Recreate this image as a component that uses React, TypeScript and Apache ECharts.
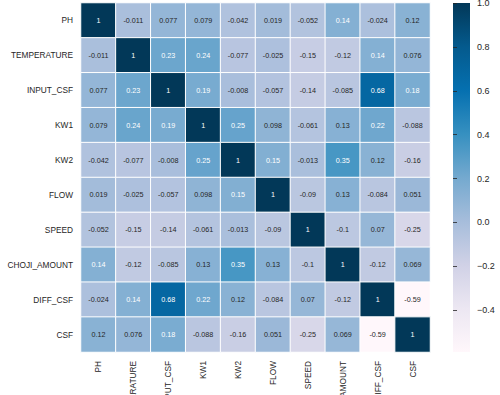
import React, { useEffect, useRef } from "react";
import * as echarts from "echarts";

const labels = ["PH", "TEMPERATURE", "INPUT_CSF", "KW1", "KW2", "FLOW", "SPEED", "CHOJI_AMOUNT", "DIFF_CSF", "CSF"];

const rowPH = [1, -0.011, 0.077, 0.079, -0.042, 0.019, -0.052, 0.14, -0.024, 0.12];
const rowTemp = [-0.011, 1, 0.23, 0.24, -0.077, -0.025, -0.15, -0.12, 0.14, 0.076];
const rowInput = [0.077, 0.23, 1, 0.19, -0.008, -0.057, -0.14, -0.085, 0.68, 0.18];
const rowKW1 = [0.079, 0.24, 0.19, 1, 0.25, 0.098, -0.061, 0.13, 0.22, -0.088];
const rowKW2 = [-0.042, -0.077, -0.008, 0.25, 1, 0.15, -0.013, 0.35, 0.12, -0.16];
const rowFlow = [0.019, -0.025, -0.057, 0.098, 0.15, 1, -0.09, 0.13, -0.084, 0.051];
const rowSpeed = [-0.052, -0.15, -0.14, -0.061, -0.013, -0.09, 1, -0.1, 0.07, -0.25];
const rowChoji = [0.14, -0.12, -0.085, 0.13, 0.35, 0.13, -0.1, 1, -0.12, 0.069];
const rowDiff = [-0.024, 0.14, 0.68, 0.22, 0.12, -0.084, 0.07, -0.12, 1, -0.59];
const rowCSF = [0.12, 0.076, 0.18, -0.088, -0.16, 0.051, -0.25, 0.069, -0.59, 1];

const rows = [rowPH, rowTemp, rowInput, rowKW1, rowKW2, rowFlow, rowSpeed, rowChoji, rowDiff, rowCSF];

const colorbarTicks = [-0.4, -0.2, 0, 0.2, 0.4, 0.6, 0.8, 1.0];
const vMin = -0.59;
const vMax = 1;

const PuBu = ["#fff7fb", "#ece7f2", "#d0d1e6", "#a6bddb", "#74a9cf", "#3690c0", "#0570b0", "#045a8d", "#023858"];

const FONT = "'Liberation Sans', Arial, sans-serif";

export default function App() {
  const ref = useRef<HTMLDivElement>(null);
  useEffect(() => {
    if (!ref.current) return;
    const chart = echarts.init(ref.current, undefined, { renderer: "svg" });
    const data: any[] = [];
    rows.forEach((row, r) => {
      row.forEach((v, c) => {
        data.push({
          value: [c, r, v],
          label: { color: v >= 0.135 ? "#ffffff" : "#262626" },
        });
      });
    });
    const gridLeft = 81;
    const gridTop = 3;
    const gridW = 349;
    const gridH = 349;
    const cbLeft = 453;
    const cbW = 17;
    chart.setOption({
      animation: false,
      backgroundColor: "#ffffff",
      textStyle: { fontFamily: FONT },
      grid: [
        { left: gridLeft, top: gridTop, width: gridW, height: gridH, containLabel: false, outerBoundsMode: "none" },
        { left: cbLeft, top: gridTop, width: cbW, height: gridH, containLabel: false, outerBoundsMode: "none" },
      ],
      xAxis: [
        {
          type: "category",
          gridIndex: 0,
          data: labels,
          axisLine: { show: false },
          axisTick: { show: false },
          axisLabel: { rotate: 90, fontSize: 8.3, color: "#262626", margin: 9, fontFamily: FONT, interval: 0, hideOverlap: false },
          splitLine: { show: false },
        },
        {
          type: "value",
          gridIndex: 1,
          show: false,
        },
      ],
      yAxis: [
        {
          type: "category",
          gridIndex: 0,
          data: labels,
          inverse: true,
          axisLine: { show: false },
          axisTick: { show: false },
          axisLabel: { fontSize: 8.3, color: "#262626", margin: 8, fontFamily: FONT, interval: 0 },
          splitLine: { show: false },
        },
        {
          type: "value",
          gridIndex: 1,
          position: "right",
          min: vMin,
          max: vMax,
          axisLine: { show: false },
          splitLine: { show: false },
          axisTick: {
            show: true,
            inside: false,
            length: 4,
            lineStyle: { color: "#262626", width: 0.8 },
            customValues: colorbarTicks,
          },
          axisLabel: {
            fontSize: 9,
            color: "#262626",
            margin: 7,
            fontFamily: FONT,
            customValues: colorbarTicks,
            formatter: (v: number) => (v < 0 ? "\u2212" + Math.abs(v).toFixed(1) : v.toFixed(1)),
          },
        },
      ],
      visualMap: {
        show: false,
        min: vMin,
        max: vMax,
        dimension: 2,
        seriesIndex: 0,
        inRange: { color: PuBu },
      },
      graphic: [
        {
          type: "rect",
          shape: { x: cbLeft, y: gridTop, width: cbW, height: gridH },
          style: {
            fill: new echarts.graphic.LinearGradient(
              0, 1, 0, 0,
              PuBu.map((c, i) => ({ offset: i / (PuBu.length - 1), color: c }))
            ),
          },
          z: -1,
        },
      ],
      series: [
        {
          type: "heatmap",
          xAxisIndex: 0,
          yAxisIndex: 0,
          data,
          itemStyle: { borderColor: "#ffffff", borderWidth: 1 },
          label: {
            show: true,
            fontSize: 7.2,
            fontFamily: FONT,
            formatter: (p: any) => String(p.value[2]),
          },
          emphasis: { disabled: true },
        },
      ],
    });
    return () => chart.dispose();
  }, []);
  return <div ref={ref} style={{ position: "fixed", left: 0, top: 0, width: 500, height: 395 }} />;
}
